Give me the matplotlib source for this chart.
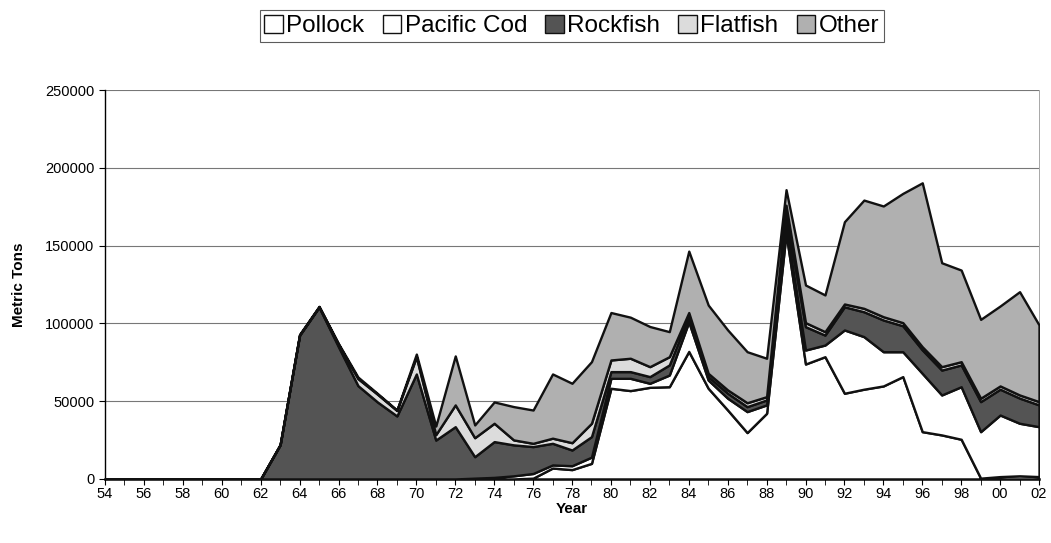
import matplotlib
matplotlib.use('Agg')
import matplotlib.pyplot as plt
import numpy as np

plt.rcParams['font.family'] = ['Liberation Sans', 'DejaVu Sans']

years = list(range(1954, 2003))
year_labels = ['54', '56', '58', '60', '62', '64', '66', '68', '70', '72', '74', '76',
               '78', '80', '82', '84', '86', '88', '90', '92', '94', '96', '98', '00', '02']

# 1954-1962 are all zero, values below start in 1963
zeros = [0] * 9
pollock = zeros + [0, 0, 0, 0, 0, 0, 0, 0, 0, 0,
                   0, 0, 0, 500, 7000, 6000, 10000,
                   58300, 56800, 58900, 59300, 82000, 58300, 44300, 29800, 42200, 158000,
                   73900, 78600, 55100, 57700, 59800, 65800, 30400, 28300, 25500, 500,
                   1500, 2000, 1500]
pacific_cod = zeros + [0, 0, 0, 0, 0, 0, 0, 0, 0, 0,
                       500, 1000, 2000, 3000, 2000, 2500, 4000,
                       6400, 7900, 2600, 7500, 19000, 5300, 7600, 13500, 5400, 5000,
                       9000, 7500, 40700, 33800, 22000, 16000, 37500, 25700, 33800, 29900,
                       39600, 33800, 32100]
rockfish = zeros + [22000, 92500, 110500, 85000, 60000, 49500, 40500, 67500, 25000, 33600,
                    13800, 23000, 19900, 17300, 13900, 10100, 13200,
                    4300, 4300, 4300, 6500, 3500, 2200, 3200, 3200, 3200, 7000,
                    15000, 6400, 14900, 16000, 20400, 16700, 15100, 16000, 14000, 19300,
                    16600, 16200, 14000]
flatfish = zeros + [0, 0, 200, 1500, 4500, 5000, 3500, 11000, 3500, 14000,
                    12200, 11800, 3200, 2100, 3300, 4700, 8600,
                    7500, 8600, 6400, 5300, 2500, 2100, 2100, 2500, 2100, 6000,
                    2600, 2200, 1800, 2200, 2100, 2000, 2000, 2200, 2100, 2200,
                    2100, 2000, 2100]
other = zeros + [0, 500, 300, 500, 1000, 500, 300, 1800, 5500, 31500,
                 8200, 13700, 21400, 21400, 41300, 38200, 39600,
                 30500, 26400, 25800, 16100, 39500, 43900, 38600, 32800, 24700, 10000,
                 24200, 23600, 52900, 69600, 71200, 83100, 105400, 66800, 58900, 50700,
                 51400, 66400, 49300]

series_names = ['Pollock', 'Pacific Cod', 'Rockfish', 'Flatfish', 'Other']
series_colors = ['#ffffff', '#ffffff', '#545454', '#dcdcdc', '#b0b0b0']


def main():
    fig = plt.figure(figsize=(10.51, 5.43), dpi=100)
    ax = fig.add_axes([0.0999, 0.118, 0.8887, 0.716])

    ax.stackplot(years, pollock, pacific_cod, rockfish, flatfish, other,
                 colors=series_colors, labels=series_names,
                 edgecolor='#111111', linewidth=1.7, zorder=3)

    ax.set_xlim(1954, 2002)
    ax.set_ylim(0, 250000)
    ax.set_yticks(np.arange(0, 250001, 50000))
    ax.set_xticks(years[::2])
    ax.set_xticklabels(year_labels)
    ax.set_xticks(years, minor=True)
    ax.tick_params(axis='both', labelsize=10.5, direction='out', length=4, width=0.8)
    ax.tick_params(axis='x', which='minor', direction='out', length=4, width=0.6)
    ax.tick_params(axis='x', pad=1.5)

    ax.grid(axis='y', color='#777777', linewidth=0.8, zorder=0)
    ax.spines['top'].set_visible(False)
    ax.spines['right'].set_color('#999999')
    ax.spines['right'].set_linewidth(0.6)
    ax.spines['left'].set_linewidth(1.0)
    ax.spines['bottom'].set_linewidth(1.8)

    ax.set_ylabel('Metric Tons', fontsize=11, fontweight='bold', labelpad=14)
    ax.set_xlabel('Year', fontsize=11, fontweight='bold', labelpad=1)

    leg = fig.legend(loc='upper center', bbox_to_anchor=(0.544, 0.995), ncol=5,
                     fontsize=17.5, frameon=True, fancybox=False, shadow=False,
                     handlelength=0.75, handleheight=0.75, handletextpad=0.15,
                     columnspacing=0.75, borderpad=0.2, borderaxespad=0.3)
    leg.get_frame().set_edgecolor('#333333')
    leg.get_frame().set_linewidth(0.8)
    for h in leg.legend_handles:
        h.set_linewidth(1.0)

    fig.savefig('out.png', dpi=100)


if __name__ == '__main__':
    main()
